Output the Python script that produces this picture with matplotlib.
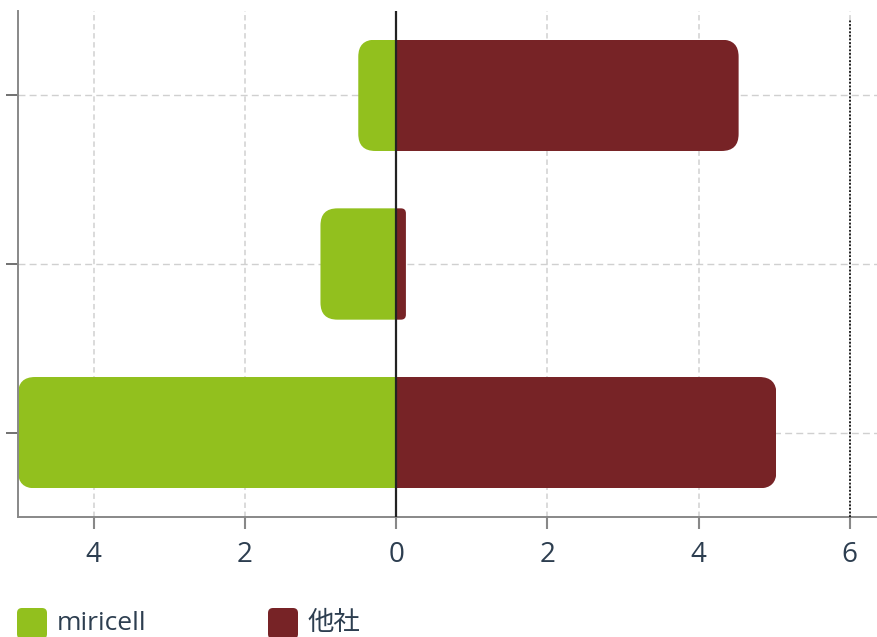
import matplotlib.pyplot as plt
from matplotlib.patches import FancyBboxPatch

plt.rcParams['font.family'] = ['Open Sans', 'Noto Sans CJK JP', 'DejaVu Sans']

# data (bottom -> top)
positions = [0, 1, 2]
miricell = [5, 1, 0.5]
others = [5.03, 0.13, 4.53]
series_names = ["miricell", "他社"]
xticks = [-4, -2, 0, 2, 4, 6]
xtick_labels = ["4", "2", "0", "2", "4", "6"]

GREEN = "#92c01e"
RED = "#772326"
TXT = "#2d3e50"
W, H, DPI = 878, 637, 100

fig = plt.figure(figsize=(W / DPI, H / DPI), dpi=DPI)
ax = fig.add_axes([18 / W, 120 / H, 859 / W, 506 / H])
ax.set_xlim(-5.0, 6.36)
ax.set_ylim(-0.5, 2.5)

# pixels per data unit, for corner rounding
sx = 859 / (6.36 + 5.0)
sy = 506 / 3.0
R_PX = 17


def round_bars(bars, outer):
    for rect in bars:
        rect.set_visible(False)
        x, y, w, h = rect.get_x(), rect.get_y(), rect.get_width(), rect.get_height()
        x0, x1 = min(x, x + w), max(x, x + w)
        rx = min(R_PX / sx, (x1 - x0) / 2)
        if outer == "left":
            bx0, bx1 = x0, x1 + rx
        else:
            bx0, bx1 = x0 - rx, x1
        p = FancyBboxPatch((bx0, y), bx1 - bx0, h,
                           boxstyle=f"round,pad=0,rounding_size={rx}",
                           mutation_aspect=sx / sy,
                           facecolor=rect.get_facecolor(), edgecolor="none",
                           zorder=2)
        ax.add_patch(p)
        p.set_clip_path(rect)


b1 = ax.barh(positions, [-v for v in miricell], height=0.66, color=GREEN)
b2 = ax.barh(positions, others, height=0.66, color=RED)
round_bars(b1, "left")
round_bars(b2, "right")

ax.axvline(0, color="#222222", lw=1.6, zorder=4)
ax.axvline(6, color="#111111", lw=1.3, ls=(0, (1, 1)), ymax=0.985, zorder=4)

ax.set_xticks(xticks)
ax.set_xticklabels(xtick_labels)
ax.set_yticks(positions)
ax.set_yticklabels([])
ax.set_axisbelow(True)
ax.xaxis.grid(True, color="#d8d8d8", lw=1.3, ls=(0, (3, 2)))
ax.yaxis.grid(True, color="#d0d0d0", lw=1.0, ls=(0, (5, 3)))

for s in ["top", "right"]:
    ax.spines[s].set_visible(False)
for s in ["left", "bottom"]:
    ax.spines[s].set_color("#888888")
    ax.spines[s].set_linewidth(1.4)

ax.tick_params(axis="x", length=8.5, width=1.5, color="#888888",
               labelsize=20, labelcolor=TXT, pad=9)
ax.tick_params(axis="y", length=8.5, width=1.3, color="#666666")

# legend at the bottom
for color, name, xpx in [(GREEN, series_names[0], 17), (RED, series_names[1], 268)]:
    sq = FancyBboxPatch((xpx / DPI, -2 / DPI), 30 / DPI, 31 / DPI,
                        boxstyle=f"round,pad=0,rounding_size={5 / DPI}",
                        transform=fig.dpi_scale_trans, facecolor=color,
                        edgecolor="none")
    fig.add_artist(sq)
    fig.text((xpx + 40) / W, 7 / H, name, fontsize=19, color=TXT,
             va="baseline", ha="left")

fig.savefig("out.png", dpi=DPI)
